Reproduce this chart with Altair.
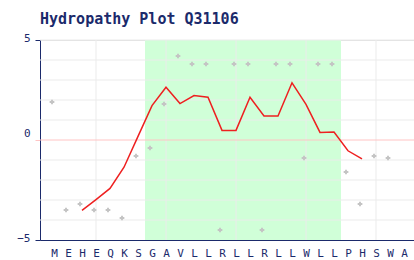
import altair as alt
import pandas as pd

# ---- data ----
residues = list("MEHEQKSGAVLLRLLRLLWLLPHSWA")
raw_scores = [1.9, -3.5, -3.2, -3.5, -3.5, -3.9, -0.8, -0.4, 1.8, 4.2, 3.8, 3.8,
              -4.5, 3.8, 3.8, -4.5, 3.8, 3.8, -0.9, 3.8, 3.8, -1.6, -3.2, -0.8, -0.9]
smooth_start = 2
smooth_scores = [-3.52, -2.98, -2.42, -1.36, 0.18, 1.72, 2.64, 1.82, 2.22, 2.14,
                 0.48, 0.48, 2.14, 1.2, 1.2, 2.86, 1.78, 0.38, 0.4, -0.54, -0.94]
tm_first = [7]
tm_last = [20]
x_grid = [3, 8, 13, 18, 23]
y_grid = [-4, -3, -2, -1, 1, 2, 3, 4, 5]
y_ticks = [-5, 0, 5]
zero_line = [0]

NAVY = "#1b2a6b"
GREEN = "#d0ffd8"
GRID = "#ebebeb"
PINK = "#ffc4c4"
RED = "#ee2020"
GREY = "#c4c4c4"
MONO = "DejaVu Sans Mono"

raw_df = pd.DataFrame({"i": list(range(len(raw_scores))), "v": raw_scores})
smooth_df = pd.DataFrame({"i": [smooth_start + k for k in range(len(smooth_scores))],
                          "v": smooth_scores})
tm_df = pd.DataFrame({"first": tm_first, "last": tm_last})

xscale = alt.Scale(domain=[-1, 25.714], nice=False, zero=False)
yscale = alt.Scale(domain=[-5, 5], nice=False, zero=False)

label_expr = "[" + ",".join("'%s'" % r for r in residues) + "][datum.value]"

xaxis = alt.Axis(values=list(range(len(residues))), labelExpr=label_expr, ticks=False,
                 domainColor=NAVY, domainWidth=1, labelColor=NAVY, labelFont=MONO,
                 labelFontSize=11, labelPadding=7, grid=False, title=None,
                 labelAngle=0, labelOverlap=False, labelFlush=False)
yaxis = alt.Axis(values=y_ticks, domainColor=NAVY, domainWidth=1,
                 tickColor={"condition": {"test": "datum.value == 0", "value": PINK}, "value": NAVY},
                 tickSize=5, labelColor=NAVY, labelFont=MONO, labelFontSize=11,
                 labelPadding=5, grid=False, title=None, labelFlush=False,
                 labelOffset={"condition": {"test": "datum.value == 0", "value": -7}, "value": -2})


def X(field):
    return alt.X(field, scale=xscale, axis=xaxis, title=None)


def Y(field):
    return alt.Y(field, scale=yscale, axis=yaxis, title=None)


rect = alt.Chart(tm_df).transform_calculate(
    x0="datum.first - 0.5", x1="datum.last + 0.5", y0="5", y1="-5"
).mark_rect(color=GREEN).encode(
    x=X("x0:Q"), x2="x1:Q", y=Y("y0:Q"), y2="y1:Q",
)

vgrid = alt.Chart(pd.DataFrame({"x": x_grid})).mark_rule(color=GRID, strokeWidth=1).encode(
    x=X("x:Q")
)
hgrid = alt.Chart(pd.DataFrame({"y": y_grid})).mark_rule(color=GRID, strokeWidth=1).encode(
    y=Y("y:Q")
)
zero = alt.Chart(pd.DataFrame({"y": zero_line})).mark_rule(color=PINK, strokeWidth=1).encode(
    y=Y("y:Q")
)
points = alt.Chart(raw_df).mark_point(shape="cross", filled=True, size=22, color=GREY,
                                      opacity=1, xOffset=-2).encode(
    x=X("i:Q"), y=Y("v:Q"),
)
line = alt.Chart(smooth_df).mark_line(color=RED, strokeWidth=1.5).encode(
    x=X("i:Q"), y=Y("v:Q"),
)

chart = alt.layer(rect, vgrid, hgrid, zero, points, line).properties(
    width=374, height=200,
    autosize="none",
    padding={"left": 40, "top": 40, "right": 0, "bottom": 20},
    title=alt.TitleParams("Hydropathy Plot Q31106", anchor="start", frame="group",
                          font=MONO, fontSize=15, fontWeight="bold", color=NAVY, offset=5),
).configure_view(stroke=None).configure(background="white")

chart.save("out.html", embed_options={"renderer": "svg", "actions": False})
